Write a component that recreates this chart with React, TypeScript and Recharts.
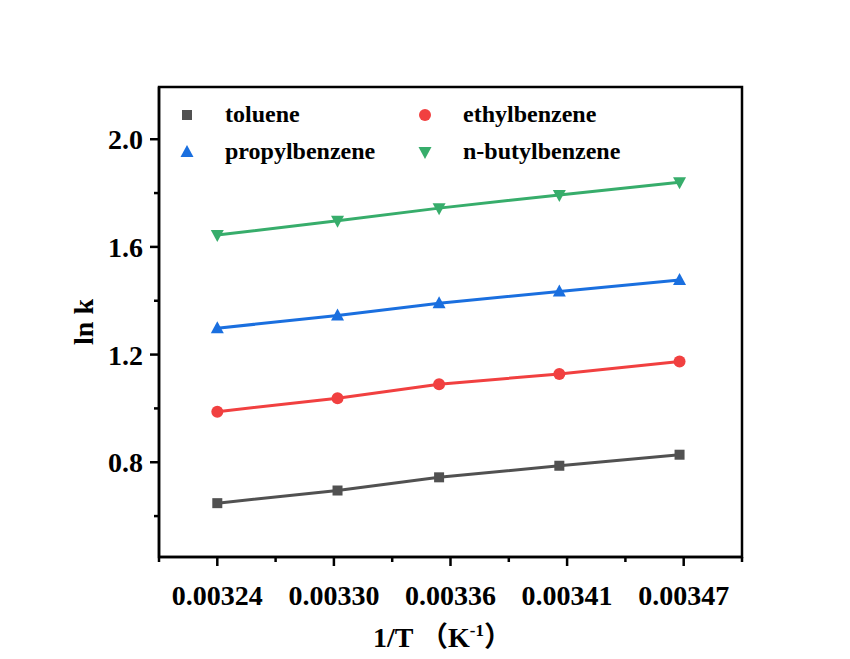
import React from "react";
import { LineChart, Line, XAxis, YAxis, ReferenceArea, Legend, Label } from "recharts";

// 1/T (K^-1) for each run, and ln k for each alkylbenzene
const INV_T = [0.003245, 0.003303, 0.003352, 0.00341, 0.003468];
const TOLUENE = [0.648, 0.695, 0.744, 0.787, 0.828];
const ETHYLBENZENE = [0.988, 1.038, 1.09, 1.128, 1.174];
const PROPYLBENZENE = [1.298, 1.345, 1.391, 1.434, 1.477];
const BUTYLBENZENE = [1.644, 1.697, 1.744, 1.793, 1.84];

const X_TICKS = [0.003245, 0.00330125, 0.0033575, 0.00341375, 0.00347];
const X_TICK_LABELS = ["0.00324", "0.00330", "0.00336", "0.00341", "0.00347"];
const Y_TICKS = [0.8, 1.2, 1.6, 2.0];
const Y_TICK_LABELS = ["0.8", "1.2", "1.6", "2.0"];

const X_STEP = X_TICKS[1] - X_TICKS[0];
const X_DOMAIN: [number, number] = [X_TICKS[0] - X_STEP / 2, X_TICKS[X_TICKS.length - 1] + X_STEP / 2];
const Y_DOMAIN: [number, number] = [0.448, 2.194];

// minor ticks sit halfway between the labelled ones
const X_MINOR = [X_DOMAIN[0], ...X_TICKS.map((t) => t + X_STEP / 2)];
const Y_MINOR = Y_TICKS.map((t) => t - 0.2);

const FONT = '"Liberation Serif", "Times New Roman", "Noto Sans CJK SC", serif';

type Shape = "square" | "circle" | "up" | "down";

const SERIES: { key: string; name: string; color: string; shape: Shape; values: number[] }[] = [
  { key: "toluene", name: "toluene", color: "#515151", shape: "square", values: TOLUENE },
  { key: "ethylbenzene", name: "ethylbenzene", color: "#F14040", shape: "circle", values: ETHYLBENZENE },
  { key: "propylbenzene", name: "propylbenzene", color: "#1A6FDF", shape: "up", values: PROPYLBENZENE },
  { key: "butylbenzene", name: "n-butylbenzene", color: "#37AD6B", shape: "down", values: BUTYLBENZENE },
];

const data = INV_T.map((x, i) => {
  const row: Record<string, number> = { x };
  SERIES.forEach((s) => (row[s.key] = s.values[i]));
  return row;
});

const Marker = ({ cx, cy, shape, color }: { cx: number; cy: number; shape: Shape; color: string }) => {
  if (shape === "square") return <rect x={cx - 5} y={cy - 5} width={10} height={10} fill={color} />;
  if (shape === "circle") return <circle cx={cx} cy={cy} r={6} fill={color} />;
  if (shape === "up")
    return <polygon points={`${cx},${cy - 7} ${cx - 6.5},${cy + 5} ${cx + 6.5},${cy + 5}`} fill={color} />;
  return <polygon points={`${cx},${cy + 7} ${cx - 6.5},${cy - 5} ${cx + 6.5},${cy - 5}`} fill={color} />;
};

const XTick = ({ x, y, payload }: any) => {
  const i = X_TICKS.indexOf(payload.value);
  const major = i >= 0;
  return (
    <g>
      <line x1={x} x2={x} y1={y} y2={y + (major ? 9 : 5)} stroke="#000" strokeWidth={2.5} />
      {major && (
        <text x={x} y={y + 48} textAnchor="middle" fontFamily={FONT} fontWeight="bold" fontSize={28} fill="#000">
          {X_TICK_LABELS[i]}
        </text>
      )}
    </g>
  );
};

const YTick = ({ x, y, payload }: any) => {
  const i = Y_TICKS.indexOf(payload.value);
  const major = i >= 0;
  return (
    <g>
      <line x1={x - (major ? 9 : 5)} x2={x} y1={y} y2={y} stroke="#000" strokeWidth={2.5} />
      {major && (
        <text x={x - 16} y={y + 10} textAnchor="end" fontFamily={FONT} fontWeight="bold" fontSize={28} fill="#000">
          {Y_TICK_LABELS[i]}
        </text>
      )}
    </g>
  );
};

const LegendIcon = ({ shape, color }: { shape: Shape; color: string }) => (
  <svg width={30} height={30} style={{ display: "block" }}>
    <Marker cx={15} cy={15} shape={shape} color={color} />
  </svg>
);

const renderLegend = () => (
  <div
    style={{
      display: "grid",
      gridTemplateColumns: "238px 238px",
      gridAutoRows: "37px",
      fontFamily: FONT,
      fontWeight: "bold",
      fontSize: 24,
      color: "#000",
    }}
  >
    {SERIES.map((s) => (
      <div key={s.key} style={{ display: "flex", alignItems: "center" }}>
        <LegendIcon shape={s.shape} color={s.color} />
        <span style={{ marginLeft: 23 }}>{s.name}</span>
      </div>
    ))}
  </div>
);

export default function App() {
  return (
    <div style={{ position: "absolute", left: 0, top: 0, width: 850, height: 659, background: "#fff" }}>
      <LineChart width={850} height={659} data={data} margin={{ top: 87, right: 108, bottom: 12, left: 79 }}>
        <XAxis
          dataKey="x"
          type="number"
          domain={X_DOMAIN}
          allowDataOverflow
          ticks={[...X_TICKS, ...X_MINOR]}
          interval={0}
          height={90}
          tickSize={0}
          tickMargin={0}
          tickLine={false}
          axisLine={{ stroke: "#000", strokeWidth: 2.5 }}
          tick={<XTick />}
        >
          <Label
            content={({ viewBox }: any) => (
              <text
                x={viewBox.x + viewBox.width / 2 - 8}
                y={viewBox.y + 90}
                textAnchor="middle"
                fontFamily={FONT}
                fontWeight="bold"
                fontSize={28}
                fill="#000"
              >
                1/T （K
                <tspan fontSize={17} dy={-11}>
                  -1
                </tspan>
                <tspan dy={11}>）</tspan>
              </text>
            )}
          />
        </XAxis>
        <YAxis
          type="number"
          domain={Y_DOMAIN}
          allowDataOverflow
          ticks={[...Y_TICKS, ...Y_MINOR]}
          interval={0}
          width={80}
          tickSize={0}
          tickMargin={0}
          tickLine={false}
          axisLine={{ stroke: "#000", strokeWidth: 2.5 }}
          tick={<YTick />}
        >
          <Label
            content={({ viewBox }: any) => {
              const cx = viewBox.x + 14;
              const cy = viewBox.y + viewBox.height / 2;
              return (
                <text
                  x={cx}
                  y={cy}
                  transform={`rotate(-90 ${cx} ${cy})`}
                  textAnchor="middle"
                  fontFamily={FONT}
                  fontWeight="bold"
                  fontSize={28}
                  fill="#000"
                >
                  ln k
                </text>
              );
            }}
          />
        </YAxis>
        <ReferenceArea
          x1={X_DOMAIN[0]}
          x2={X_DOMAIN[1]}
          y1={Y_DOMAIN[0]}
          y2={Y_DOMAIN[1]}
          fill="none"
          stroke="#000"
          strokeWidth={2.5}
        />
        {SERIES.map((s) => (
          <Line
            key={s.key}
            dataKey={s.key}
            name={s.name}
            type="linear"
            stroke={s.color}
            strokeWidth={3}
            isAnimationActive={false}
            dot={(p: any) => <Marker key={`${s.key}-${p.index}`} cx={p.cx} cy={p.cy} shape={s.shape} color={s.color} />}
            activeDot={false}
          />
        ))}
        <Legend
          layout="horizontal"
          verticalAlign="middle"
          align="center"
          content={renderLegend}
          wrapperStyle={{ top: 96, left: 172, width: 480 }}
        />
      </LineChart>
    </div>
  );
}
